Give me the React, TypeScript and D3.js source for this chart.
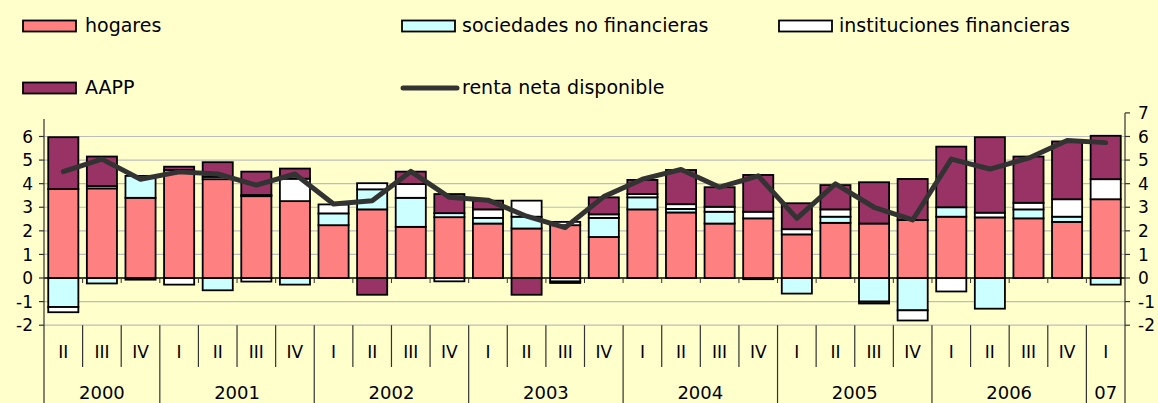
import React from "react";
import * as d3 from "d3";

const quarters = ["II","III","IV","I","II","III","IV","I","II","III","IV","I","II","III","IV","I","II","III","IV","I","II","III","IV","I","II","III","IV","I"];
const yearLabels = ["2000","2001","2002","2003","2004","2005","2006","07"];
const yearCounts = [3,4,4,4,4,4,4,1];

const hogares = [3.77,3.80,3.40,4.58,4.19,3.47,3.26,2.24,2.91,2.17,2.58,2.31,2.10,2.24,1.74,2.91,2.78,2.31,2.53,1.85,2.34,2.31,2.46,2.60,2.57,2.53,2.38,3.34];
const sociedades = [-1.23,-0.23,0.93,0,-0.52,0.05,-0.28,0.50,0.85,1.23,0.17,0.24,0.50,-0.15,0.81,0.51,0.15,0.50,-0.05,-0.66,0.26,-1.00,-1.37,0.40,-1.30,0.38,0.22,-0.28];
const instituciones = [-0.22,0.10,0,-0.28,0.10,-0.15,0.95,0.38,0.26,0.59,-0.14,0.36,0.68,0.14,0.15,0.14,0.20,0.21,0.28,0.22,0.31,-0.08,-0.43,-0.57,0.20,0.28,0.74,0.85];
const aapp = [2.20,1.25,-0.07,0.14,0.62,0.99,0.43,0,-0.71,0.52,0.81,0.37,-0.71,-0.06,0.72,0.60,1.45,0.83,1.56,1.10,1.03,1.75,1.74,2.57,3.20,1.96,2.45,1.84];
const renta = [4.51,5.04,4.19,4.50,4.41,3.94,4.41,3.14,3.28,4.52,3.42,3.30,2.62,2.14,3.45,4.19,4.60,3.85,4.33,2.53,3.99,3.00,2.46,5.04,4.62,5.08,5.83,5.74];

const seriesKeys = ["hogares","sociedades","instituciones","aapp"];
const seriesNames = ["hogares","sociedades no financieras","instituciones financieras","AAPP"];
const seriesColors = ["#FF8080","#CCFFFF","#FFFFFF","#993366"];
const leftTicks = [-2,-1,0,1,2,3,4,5,6];
const rightTicks = [-2,-1,0,1,2,3,4,5,6,7];

const W = 1158, H = 403;
const X0 = 44, X1 = 1125;
const FONT = "'DejaVu Sans', sans-serif";

export default function App() {
  const idx = quarters.map((_, i) => i);
  const table = idx.map(i => ({
    i,
    hogares: hogares[i],
    sociedades: sociedades[i],
    instituciones: instituciones[i],
    aapp: aapp[i],
  }));
  const stacked = d3.stack<any>().keys(seriesKeys).offset(d3.stackOffsetDiverging)(table);

  const x = d3.scaleBand<number>().domain(idx).range([X0, X1]).paddingInner(0.22).paddingOuter(0.11);
  const xb = d3.scaleLinear().domain([0, quarters.length]).range([X0, X1]);
  const y = d3.scaleLinear().domain([-2, 7]).range([325.2, 112.9]);

  const line = d3.line<number>()
    .x((_, i) => (x(i) as number) + x.bandwidth() / 2)
    .y(d => y(d));

  const yearStarts: number[] = [];
  let acc = 0;
  yearCounts.forEach(c => { yearStarts.push(acc); acc += c; });
  const yearBoundSet = new Set<number>([...yearStarts, quarters.length]);

  const grid = "#BDBDBD";
  const axisCol = "#333333";

  return (
    <svg width={W} height={H} style={{ position: "absolute", left: 0, top: 0, display: "block" }}
      fontFamily={FONT}>
      <rect x={0} y={0} width={W} height={H} fill="#FFFFCC" />

      {/* legend */}
      {[0, 1, 2].map(k => {
        const cols = [{ sx: 23, tx: 85 }, { sx: 402, tx: 462 }, { sx: 779, tx: 839 }];
        return (
          <g key={"lg" + k}>
            <rect x={cols[k].sx} y={20.5} width={53} height={11} fill={seriesColors[k]} stroke="#000" strokeWidth={1.8} />
            <text x={cols[k].tx} y={32} fontSize={19} fill="#000">{seriesNames[k]}</text>
          </g>
        );
      })}
      <rect x={23} y={82.5} width={53} height={11} fill={seriesColors[3]} stroke="#000" strokeWidth={1.8} />
      <text x={85} y={94} fontSize={19} fill="#000">{seriesNames[3]}</text>
      <line x1={403} x2={457} y1={88} y2={88} stroke="#333333" strokeWidth={5} strokeLinecap="round" />
      <text x={462} y={94} fontSize={19} fill="#000">renta neta disponible</text>

      {/* gridlines */}
      {leftTicks.filter(t => t !== 0).map(t => (
        <line key={"g" + t} x1={X0} x2={X1} y1={y(t)} y2={y(t)} stroke={grid} strokeWidth={1.2} />
      ))}

      {/* bars */}
      {stacked.map((s, si) => (
        <g key={"s" + si}>
          {s.map((d, i) => {
            const v0 = d[0], v1 = d[1];
            if (Math.abs(v1 - v0) < 1e-9) return null;
            const yTop = y(Math.max(v0, v1));
            const yBot = y(Math.min(v0, v1));
            return (
              <rect key={i} x={x(i) as number} y={yTop} width={x.bandwidth()} height={yBot - yTop}
                fill={seriesColors[si]} stroke="#000" strokeWidth={1.8} />
            );
          })}
        </g>
      ))}

      {/* zero line */}
      <line x1={X0} x2={X1} y1={y(0)} y2={y(0)} stroke="#000" strokeWidth={1.5} />
      {idx.slice(1).map(i => (
        <line key={"zt" + i} x1={xb(i)} x2={xb(i)} y1={y(0)} y2={y(0) + 5} stroke={axisCol} strokeWidth={1} />
      ))}

      {/* line series */}
      <path d={line(renta) || ""} fill="none" stroke="#333333" strokeWidth={5} strokeLinejoin="round" strokeLinecap="round" />

      {/* left axis */}
      <line x1={X0} x2={X0} y1={119} y2={H} stroke={axisCol} strokeWidth={1.2} />
      {leftTicks.map(t => (
        <g key={"lt" + t}>
          <line x1={X0 - 5} x2={X0} y1={y(t)} y2={y(t)} stroke={axisCol} strokeWidth={1.2} />
          <text x={33} y={y(t)} dy="0.36em" textAnchor="end" fontSize={17} fill="#000">{t}</text>
        </g>
      ))}

      {/* right axis */}
      <line x1={X1} x2={X1} y1={y(7)} y2={H} stroke={axisCol} strokeWidth={1.2} />
      {rightTicks.map(t => (
        <g key={"rt" + t}>
          <line x1={X1} x2={X1 + 5} y1={y(t)} y2={y(t)} stroke={axisCol} strokeWidth={1.2} />
          <text x={1138} y={y(t)} dy="0.36em" textAnchor="start" fontSize={17} fill="#000">{t}</text>
        </g>
      ))}

      {/* category axis */}
      {d3.range(1, quarters.length).map(i => (
        <line key={"cb" + i} x1={xb(i)} x2={xb(i)} y1={y(-2)} y2={yearBoundSet.has(i) ? H : 367}
          stroke={axisCol} strokeWidth={1.2} />
      ))}
      {quarters.map((q, i) => (
        <text key={"q" + i} x={(x(i) as number) + x.bandwidth() / 2} y={358} textAnchor="middle" fontSize={17} fill="#000">{q}</text>
      ))}
      {yearLabels.map((yl, k) => (
        <text key={"y" + k} x={(xb(yearStarts[k]) + xb(yearStarts[k] + yearCounts[k])) / 2} y={399}
          textAnchor="middle" fontSize={18} fill="#000">{yl}</text>
      ))}
    </svg>
  );
}
